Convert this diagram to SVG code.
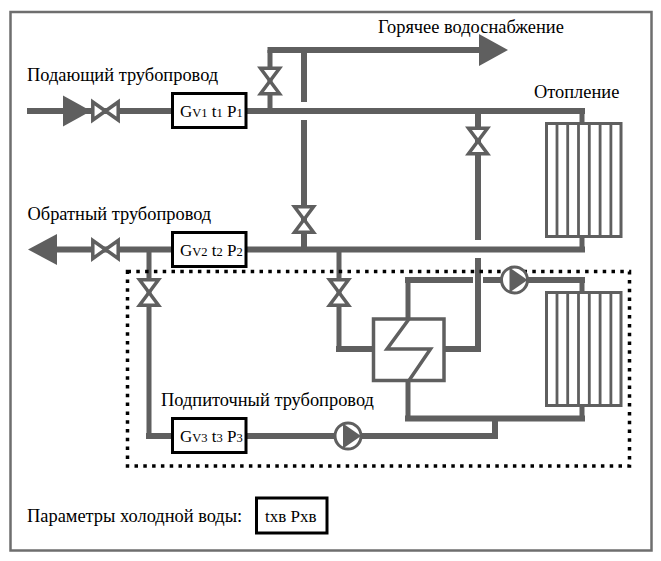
<svg xmlns="http://www.w3.org/2000/svg" width="661" height="561" viewBox="0 0 661 561">
<style>
text{font-family:"Liberation Serif","Times New Roman",serif;font-size:18.4px;fill:#000}
text.b{font-size:17px}
.s{font-size:12.500px}
.pipe{fill:none;stroke:#5f5f5f;stroke-width:6}
.thin{fill:none;stroke:#5f5f5f;stroke-width:5}
.arrow{fill:#5f5f5f}
.valve{fill:#fff;stroke:#5f5f5f;stroke-width:3.500}
.box{fill:#fff;stroke:#000;stroke-width:3}
.rad{fill:#fff;stroke:#5f5f5f;stroke-width:3}
.rib{stroke:#5f5f5f;stroke-width:2.800}
.hx{fill:#fff;stroke:#5f5f5f;stroke-width:3.500}
.pump{fill:#fff;stroke:#5f5f5f;stroke-width:3}
</style>
<defs>
<polygon id="vh" class="valve" points="-12.700,-9 12.700,9 12.700,-9 -12.700,9"/>
<polygon id="vv" class="valve" points="-9.500,-12.700 9.500,-12.700 -9.500,12.700 9.500,12.700"/>
<g id="pu"><circle class="pump" r="13"/><polygon class="arrow" points="-5,-12.500 13,0 -5,12.500"/></g>
<g id="radiator"><rect class="rad" x="0" y="0" width="74.500" height="113"/>
<path class="rib" d="M10.500 0V113M21.200 0V113M32 0V113M42.800 0V113M53.600 0V113M64.400 0V113"/></g>
</defs>
<rect id="frame" x="10.500" y="12" width="641" height="538.500" fill="#fff" stroke="#6e6e6e" stroke-width="2.500"/>
<g id="connectors">
<path class="pipe" d="M27 111H585"/>
<path class="thin" d="M582 108V123"/>
<path class="pipe" d="M44 249.500H585"/>
<path class="thin" d="M582 236V252"/>
<path class="thin" d="M270 111V50"/>
<path class="pipe" d="M267.500 50H485"/>
<path class="pipe" d="M304 53V102M304 120V249"/>
<path class="pipe" d="M478 111V240M478 258V352M444 349H481"/>
<path class="thin" d="M339 250V349"/>
<path class="pipe" d="M336 349H373"/>
<path class="thin" d="M408 319V280"/>
<path class="pipe" d="M405 280H473M483 280H585"/>
<path class="thin" d="M582 280V292"/>
<path class="thin" d="M408 381V418.500"/>
<path class="pipe" d="M405 418.500H585"/>
<path class="thin" d="M582 405V418"/>
<path class="pipe" d="M495 418V439M246 436H498"/>
<path class="thin" d="M149 249V436"/>
<path class="pipe" d="M146 436H172"/>
<polygon class="arrow" points="63,95.500 91,111 63,126.500"/>
<polygon class="arrow" points="28,249.500 57,234 57,265"/>
<polygon class="arrow" points="479,34 508,50 479,66"/>
</g>
<rect id="zone" x="127.500" y="271.500" width="502" height="194.500" fill="none" stroke="#000" stroke-width="3.500" stroke-dasharray="3.500 5.300"/>
<g id="valves">
<use href="#vh" x="105.500" y="111"/>
<use href="#vh" x="105.500" y="249.500"/>
<use href="#vv" x="270" y="81"/>
<use href="#vv" x="304" y="219.500"/>
<use href="#vv" x="478" y="141"/>
<use href="#vv" x="339" y="292.500"/>
<use href="#vv" x="149" y="292.500"/>
</g>
<g id="pump1"><use href="#pu" x="514.500" y="280"/></g>
<g id="pump2"><use href="#pu" x="348" y="436"/></g>
<g id="radiator1"><use href="#radiator" x="546.500" y="123.500"/></g>
<g id="radiator2"><use href="#radiator" x="546.500" y="292.500"/></g>
<g id="exchanger">
<rect class="hx" x="373.500" y="319" width="70.500" height="61.500"/>
<path fill="none" stroke="#5f5f5f" stroke-width="3.500" d="M409 319L387 349H430.500L409 380.500"/>
</g>
<g id="node-g1"><rect class="box" x="172.500" y="93.500" width="73.500" height="34"/>
<text class="b" x="180" y="117">G<tspan class="s">V1</tspan> t<tspan class="s">1</tspan> P<tspan class="s">1</tspan></text></g>
<g id="node-g2"><rect class="box" x="172.500" y="232.500" width="73.500" height="34"/>
<text class="b" x="180" y="255.500">G<tspan class="s">V2</tspan> t<tspan class="s">2</tspan> P<tspan class="s">2</tspan></text></g>
<g id="node-g3"><rect class="box" x="172.500" y="418.500" width="73.500" height="34"/>
<text class="b" x="180" y="442">G<tspan class="s">V3</tspan> t<tspan class="s">3</tspan> P<tspan class="s">3</tspan></text></g>
<g id="node-cold"><rect class="box" x="256.500" y="498" width="70.500" height="35"/>
<text class="b" x="265" y="522">tхв Pхв</text></g>
<g id="labels">
<text x="27" y="81">Подающий трубопровод</text>
<text x="27.500" y="220">Обратный трубопровод</text>
<text x="378" y="33">Горячее водоснабжение</text>
<text x="534" y="98">Отопление</text>
<text x="161" y="406">Подпиточный трубопровод</text>
<text x="27" y="522">Параметры холодной воды:</text>
</g>
</svg>
